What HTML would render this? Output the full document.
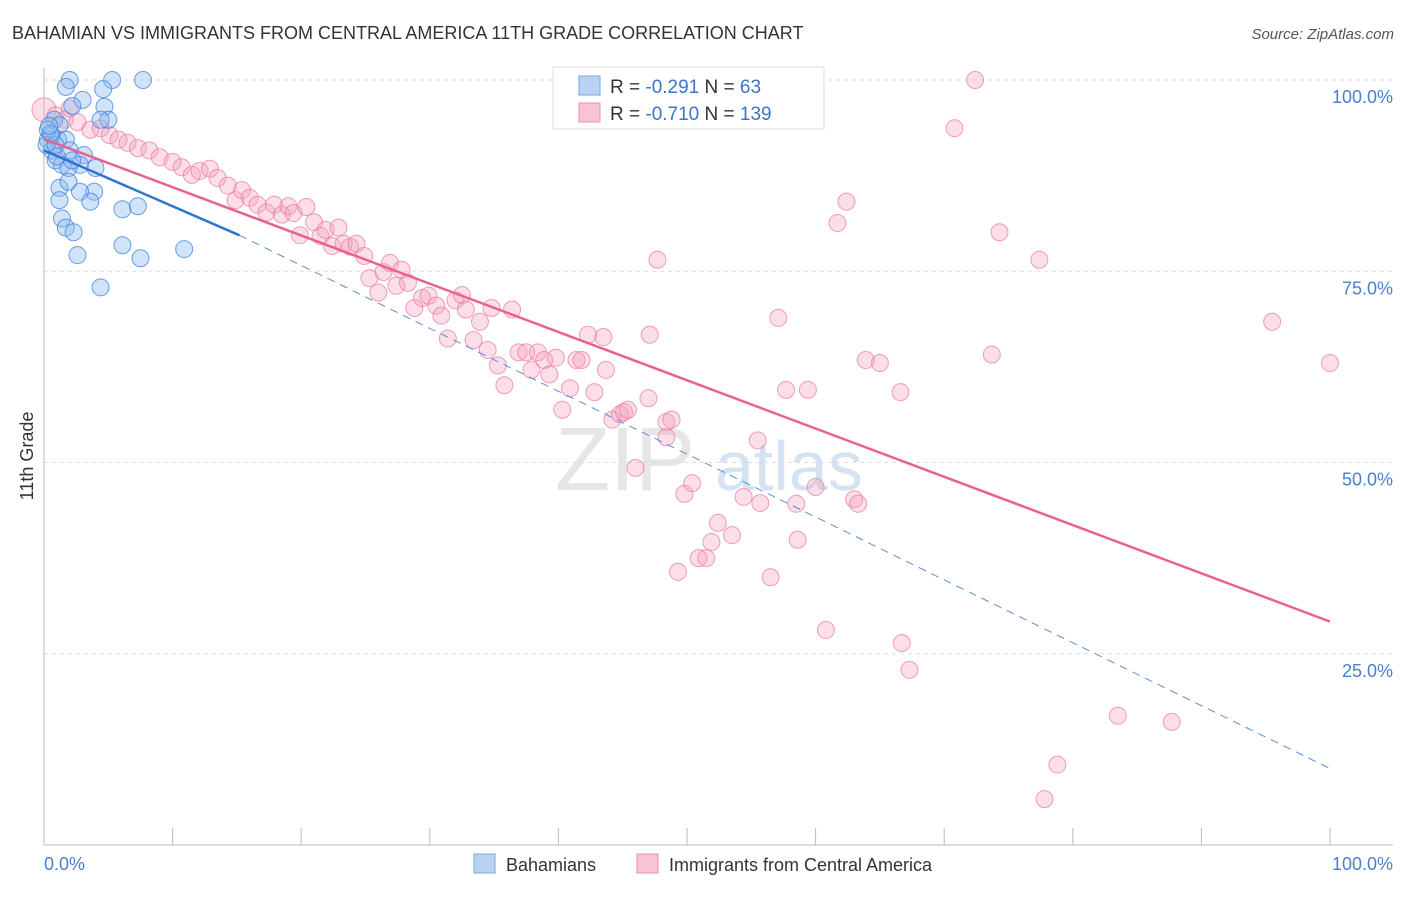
<!DOCTYPE html>
<html><head><meta charset="utf-8"><style>
body{margin:0;background:#fff;font-family:"Liberation Sans",sans-serif}
svg text{font-family:"Liberation Sans",sans-serif}
</style></head><body>
<svg id="chart" width="1406" height="892" viewBox="0 0 1406 892" xmlns="http://www.w3.org/2000/svg">
<text x="12" y="39" font-size="18" fill="#333">BAHAMIAN VS IMMIGRANTS FROM CENTRAL AMERICA 11TH GRADE CORRELATION CHART</text>
<text x="1394" y="39" font-size="15" fill="#555" text-anchor="end" font-style="italic">Source: ZipAtlas.com</text>
<text x="555" y="490" font-size="90" fill="#e6e6e6" font-family="Liberation Serif">ZIP</text>
<text x="715" y="490" font-size="70" fill="#d4e2f2">atlas</text>
<g id="grid"></g>
<line x1="44" y1="68" x2="44" y2="845" stroke="#bbb"/>
<line x1="44" y1="845" x2="1393" y2="845" stroke="#bbb"/>
<text transform="translate(33,456) rotate(-90)" font-size="18" fill="#333" text-anchor="middle">11th Grade</text>
<text x="44" y="870" font-size="18" fill="#4a7fd0">0.0%</text>
<text x="1393" y="870" font-size="18" fill="#4a7fd0" text-anchor="end">100.0%</text>
<g id="pts"></g>
<g id="lines"></g>
<g>
<rect x="553" y="67" width="271" height="62" fill="#fff" stroke="#ddd"/>
<rect x="579" y="76" width="21" height="19" fill="#b9d3f3" stroke="#7aa7e0"/>
<rect x="579" y="103" width="21" height="19" fill="#f8c4d4" stroke="#ec90ad"/>
<text x="610" y="93" font-size="19" fill="#333">R = <tspan fill="#3b74c9">-0.291</tspan>   N = <tspan fill="#3b74c9"> 63</tspan></text>
<text x="610" y="120" font-size="19" fill="#333">R = <tspan fill="#3b74c9">-0.710</tspan>   N = <tspan fill="#3b74c9">139</tspan></text>
</g>
<g>
<rect x="474" y="854" width="21" height="19" fill="#b9d3f3" stroke="#7aa7e0"/>
<text x="506" y="871" font-size="18" fill="#333">Bahamians</text></g>
<g>
<rect x="637" y="854" width="21" height="19" fill="#f8c4d4" stroke="#ec90ad"/>
<text x="669" y="871" font-size="18" fill="#333">Immigrants from Central America</text></g>
</svg>
<script>
const yTicks=[100,75,50,25];
const yTickLabels=["100.0%","75.0%","50.0%","25.0%"];
const xTicks=[10,20,30,40,50,60,70,80,90,100];
const blueX=[2.0,5.3,7.7,1.7,4.6,3.0,2.2,4.7,5.0,4.4,0.8,1.2,0.3,1.1,1.7,0.6,2.0,3.1,0.9,1.4,2.8,4.0,1.9,1.2,3.9,2.8,1.9,1.2,3.6,6.1,7.3,1.4,1.7,2.3,6.1,10.9,2.6,7.5,4.4,0.3,0.6,0.2,0.9,0.5,1.0,2.2,0.4];
const blueY=[100,100,100,99.1,98.8,97.4,96.6,96.5,94.8,94.8,94.8,94.1,92.2,92.2,92.2,90.8,90.8,90.2,89.5,88.9,88.9,88.5,88.5,85.9,85.4,85.4,86.7,84.3,84.1,83.1,83.5,81.9,80.7,80.1,78.4,77.9,77.1,76.7,72.9,93.5,92.8,91.5,91.5,93.0,90.0,89.5,94.0];
const pinkX=[0,0.9,2.0,1.6,2.6,3.6,4.4,5.1,5.8,6.5,7.3,8.2,9.0,10.0,10.7,11.5,12.1,12.9,13.5,14.3,14.9,15.4,16.0,16.6,17.3,17.9,18.5,19.0,19.4,19.9,20.4,21.0,21.5,21.9,22.4,22.9,23.3,23.8,24.3,24.9,25.3,26.0,26.4,26.9,27.4,27.8,28.3,28.8,29.4,29.9,30.5,30.9,31.4,32.0,32.5,32.8,33.4,33.9,34.5,34.8,35.3,35.8,36.4,36.9,37.5,37.9,38.4,38.9,39.3,39.8,40.3,40.9,41.4,41.8,42.3,42.8,43.5,43.7,44.2,44.8,45.1,45.4,46.0,47.0,47.1,47.7,48.4,48.8,48.4,49.3,49.8,50.4,50.9,51.5,51.9,52.4,53.5,54.4,55.5,55.7,56.5,57.1,57.7,58.5,58.6,59.4,60.0,60.8,61.7,62.4,63.0,63.3,63.9,65.0,66.6,66.7,67.3,70.8,72.4,73.7,74.3,77.4,77.8,78.8,83.5,87.7,95.5,100,54.1,54.4];
const pinkY=[96.1,95.4,96.3,94.8,94.5,93.5,93.7,92.8,92.2,91.8,91.1,90.8,89.9,89.3,88.6,87.6,88.1,88.4,87.2,86.2,84.3,85.6,84.6,83.7,82.7,83.7,82.4,83.5,82.6,79.7,83.4,81.4,79.6,80.4,78.3,80.7,78.6,78.2,78.6,77.0,74.1,72.2,74.9,76.1,73.1,75.2,73.5,70.2,71.5,71.8,70.5,69.2,66.2,71.2,71.9,70.0,66.0,68.4,64.7,70.2,62.7,60.1,70.0,64.4,64.4,62.1,64.4,63.4,61.5,63.7,56.9,59.7,63.4,63.4,66.7,59.2,66.4,62.1,55.6,56.3,56.6,56.9,49.3,58.4,66.7,76.5,55.3,55.6,53.3,35.7,45.9,47.3,37.5,37.5,39.6,42.1,40.5,45.5,52.9,44.7,35.0,68.9,59.5,44.6,39.9,59.5,46.8,28.1,81.3,84.1,45.2,44.6,63.4,63.0,59.2,26.4,22.9,93.7,100,64.1,80.1,76.5,6.0,10.5,16.9,16.1,68.4,63.0,100,99.3];
const blueFit=[90.8,79.7], blueFitEnd=15.2, blueDashEnd=10.0;
const pinkFit=[92.3,29.2];
const NS="http://www.w3.org/2000/svg";
const X0=44,X1=1330,Y0=845,Y100=80;
function sx(v){return X0+(X1-X0)*v/100;}
function sy(v){return Y0-(Y0-Y100)*v/100;}
function mk(tag,attrs,parent){const e=document.createElementNS(NS,tag);for(const k in attrs)e.setAttribute(k,attrs[k]);parent.appendChild(e);return e;}
const grid=document.getElementById('grid');
yTicks.forEach((t,i)=>{
 const l=mk('line',{x1:44,x2:1393,y1:sy(t),y2:sy(t),stroke:'#ddd','stroke-dasharray':'4,4'},grid);
 
 
 const tx=mk('text',{x:1393,y:sy(t)+23,'font-size':18,fill:'#4a7fd0','text-anchor':'end'},grid);
 tx.textContent=yTickLabels[i];
 
 
});
xTicks.forEach(t=>{
 const l=mk('line',{x1:sx(t),x2:sx(t),y1:828,y2:845,stroke:'#bbb'},grid);
 
 
});
const pts=document.getElementById('pts');
pinkX.forEach((x,i)=>{
 const c=mk('circle',{cx:sx(x),cy:sy(pinkY[i]),r:i===0?12:8.5,fill:'rgba(244,160,188,0.35)',stroke:'rgba(236,120,160,0.7)','stroke-width':1},pts);
 
 
});
blueX.forEach((x,i)=>{
 const c=mk('circle',{cx:sx(x),cy:sy(blueY[i]),r:8.5,fill:'rgba(140,185,240,0.4)',stroke:'rgba(60,130,220,0.75)','stroke-width':1},pts);
 
 
});
const lines=document.getElementById('lines');
const slope=(blueFit[1]-blueFit[0])/blueFitEnd;
const bd=mk('line',{x1:sx(blueFitEnd),y1:sy(blueFit[1]),x2:sx(100),y2:sy(blueDashEnd),stroke:'#5b8fd6','stroke-width':1,'stroke-dasharray':'8,6'},lines);


const bl=mk('line',{x1:sx(0),y1:sy(blueFit[0]),x2:sx(blueFitEnd),y2:sy(blueFit[1]),stroke:'#2f74d0','stroke-width':2.5},lines);


const pl=mk('line',{x1:sx(0),y1:sy(pinkFit[0]),x2:sx(100),y2:sy(pinkFit[1]),stroke:'#e8628f','stroke-width':2.5},lines);


</script>
</body></html>
